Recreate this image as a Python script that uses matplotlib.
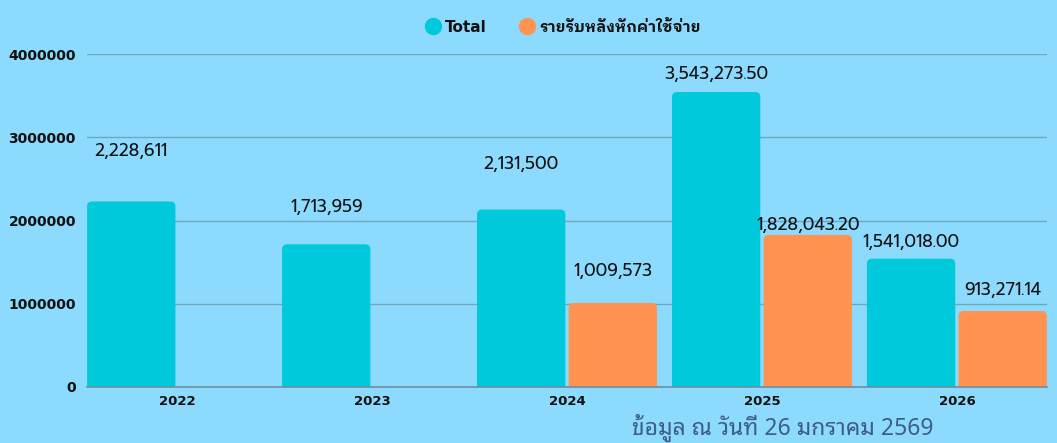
import matplotlib
matplotlib.use("Agg")
import matplotlib.pyplot as plt
from matplotlib.patches import FancyBboxPatch
from matplotlib.lines import Line2D
import numpy as np

years = ["2022", "2023", "2024", "2025", "2026"]
total = [2228611, 1713959, 2131500, 3543273.50, 1541018.00]
net = [None, None, 1009573, 1828043.20, 913271.14]
total_labels = ["2,228,611", "1,713,959", "2,131,500", "3,543,273.50", "1,541,018.00"]
net_labels = [None, None, "1,009,573", "1,828,043.20", "913,271.14"]
series_names = ["Total", "รายรับหลังหักค่าใช้จ่าย"]
yticks = [0, 1000000, 2000000, 3000000, 4000000]
footnote = "ข้อมูล ณ วันที่ 26 มกราคม 2569"

# label offsets above bar tops (pixels) - styling only
total_off = [50, 37, 45, 18, 16]
net_off = [0, 0, 31, 9, 20]

BG = "#8CDBFE"
C1 = "#00C9DB"
C2 = "#FF934F"
GRID = "#6FA6BE"

W, H = 1057, 443
fig = plt.figure(figsize=(W/100, H/100), dpi=100)
fig.patch.set_facecolor(BG)
ax = fig.add_axes([87/W, 1-387/H, (1047-87)/W, (387-54)/H])
ax.set_facecolor(BG)

bw = 0.453
off = 0.235
x = np.arange(len(years))
xlo, xhi = -0.462, 4.462
ax.set_xlim(xlo, xhi)
ax.set_ylim(0, 4000000)

ypp = 4000000/333.0
xpp = (xhi-xlo)/960.0
aspect = ypp/xpp
r = 5*xpp

def rbar(xc, h, color):
    p = FancyBboxPatch((xc-bw/2, -6*ypp), bw, h+6*ypp,
                       boxstyle=f"round,pad=0,rounding_size={r}",
                       mutation_aspect=aspect, fc=color, ec="none", zorder=3)
    ax.add_patch(p)

vfont = dict(family=["Prompt", "DejaVu Sans"], fontsize=12.5, color="#111111")
for i in range(len(years)):
    rbar(x[i]-off, total[i], C1)
    ax.annotate(total_labels[i], (x[i]-off, total[i]), xytext=(0, total_off[i]*0.72),
                textcoords="offset points", ha="center", va="center", zorder=5, **vfont)
    if net[i] is not None:
        rbar(x[i]+off, net[i], C2)
        ax.annotate(net_labels[i], (x[i]+off, net[i]), xytext=(0, net_off[i]*0.72),
                    textcoords="offset points", ha="center", va="center", zorder=5, **vfont)

ax.set_yticks(yticks)
ax.set_yticklabels([str(v) for v in yticks], family="DejaVu Sans",
                   fontweight="bold", fontsize=10, color="#111111")
ax.set_xticks(x)
ax.set_xticklabels(years, family="DejaVu Sans", fontweight="bold",
                   fontsize=9.5, color="#111111")
ax.tick_params(length=0, pad=8)
ax.tick_params(axis="x", pad=6)
ax.grid(axis="y", color=GRID, lw=1, zorder=1)
ax.set_axisbelow(True)
for s in ["top", "right", "left"]:
    ax.spines[s].set_visible(False)
ax.spines["bottom"].set_color("#6F8E9C")
ax.spines["bottom"].set_linewidth(1.2)
ax.spines["bottom"].set_zorder(4)

handles = [Line2D([], [], marker="o", ls="none", ms=11.5, mfc=C1, mec=C1),
           Line2D([], [], marker="o", ls="none", ms=11.5, mfc=C2, mec=C2)]
leg = fig.legend(handles, series_names, loc="center", bbox_to_anchor=(559/W, 1-27/H),
                 ncol=2, frameon=False, handletextpad=-0.2, columnspacing=1.6,
                 prop=dict(family=["DejaVu Sans", "IBM Plex Sans Thai Looped"], weight="bold", size=11))
for t in leg.get_texts():
    t.set_color("#111111")

fig.text(933/W, 1-428/H, footnote, ha="right", va="center", fontsize=16.5,
         family=["Noto Sans Thai Looped", "DejaVu Sans"], color="#3E5C8C")

fig.savefig("out.png", facecolor=BG)
